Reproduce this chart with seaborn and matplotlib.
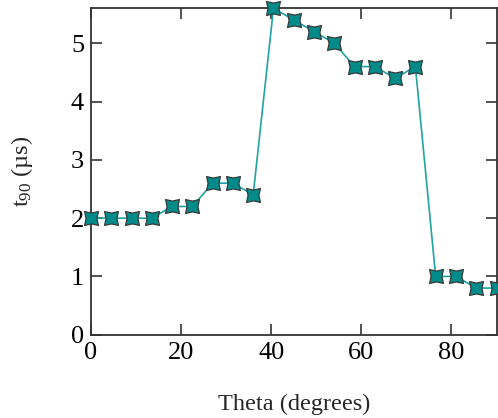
import numpy as np
import pandas as pd
import matplotlib
matplotlib.use("Agg")
import matplotlib.pyplot as plt
from matplotlib.path import Path
import seaborn as sns

# Rise time t90 versus incidence angle
theta = [0, 4.5, 9, 13.5, 18, 22.5, 27, 31.5, 36, 40.5, 45, 49.5, 54,
         58.5, 63, 67.5, 72, 76.5, 81, 85.5, 90]
t90 = [2.0, 2.0, 2.0, 2.0, 2.2, 2.2, 2.6, 2.6, 2.4, 5.6, 5.4, 5.2, 5.0,
       4.6, 4.6, 4.4, 4.6, 1.0, 1.0, 0.8, 0.8]
x_ticks = [0, 20, 40, 60, 80]
y_ticks = [0, 1, 2, 3, 4, 5]

df = pd.DataFrame({"theta": theta, "t90": t90})

sns.set_style("ticks")
plt.rcParams["font.family"] = ["Liberation Serif", "DejaVu Serif"]
plt.rcParams["mathtext.fontset"] = "custom"
plt.rcParams["mathtext.rm"] = "Liberation Serif"
plt.rcParams["mathtext.it"] = "Liberation Serif:italic"

# square marker with slightly pinched (concave) sides
k = 0.78
verts = [(-1, -1), (0, -k), (1, -1), (k, 0), (1, 1), (0, k), (-1, 1), (-k, 0), (-1, -1)]
codes = [Path.MOVETO] + [Path.LINETO] * 7 + [Path.CLOSEPOLY]
pinched = Path(verts, codes)

fig = plt.figure(figsize=(4.98, 4.18), dpi=100)
ax = fig.add_axes([91 / 498, (418 - 334.7) / 418, (496.5 - 91) / 498, (334.7 - 8.3) / 418])

sns.lineplot(data=df, x="theta", y="t90", ax=ax, color="#1fa3a3", linewidth=1.2,
             marker=pinched, markersize=10, markerfacecolor="#008b8b",
             markeredgecolor="#3a3a3a", markeredgewidth=0.9, clip_on=False, zorder=3)

ax.set_xlim(0, 90)
ax.set_ylim(0, 5.6)
ax.set_xticks(x_ticks)
ax.set_yticks(y_ticks)
ax.tick_params(direction="in", length=8, width=1.2, color="#333333",
               top=True, right=True, labelsize=19, pad=5, labelcolor="black")
for s in ax.spines.values():
    s.set_color("#333333")
    s.set_linewidth(1.3)

ax.set_xlabel("Theta (degrees)", fontsize=17.5, labelpad=22)
ax.set_ylabel(r"t$_{90}$ (µs)", fontsize=17.5, labelpad=26)

fig.savefig("out.png", dpi=100)
